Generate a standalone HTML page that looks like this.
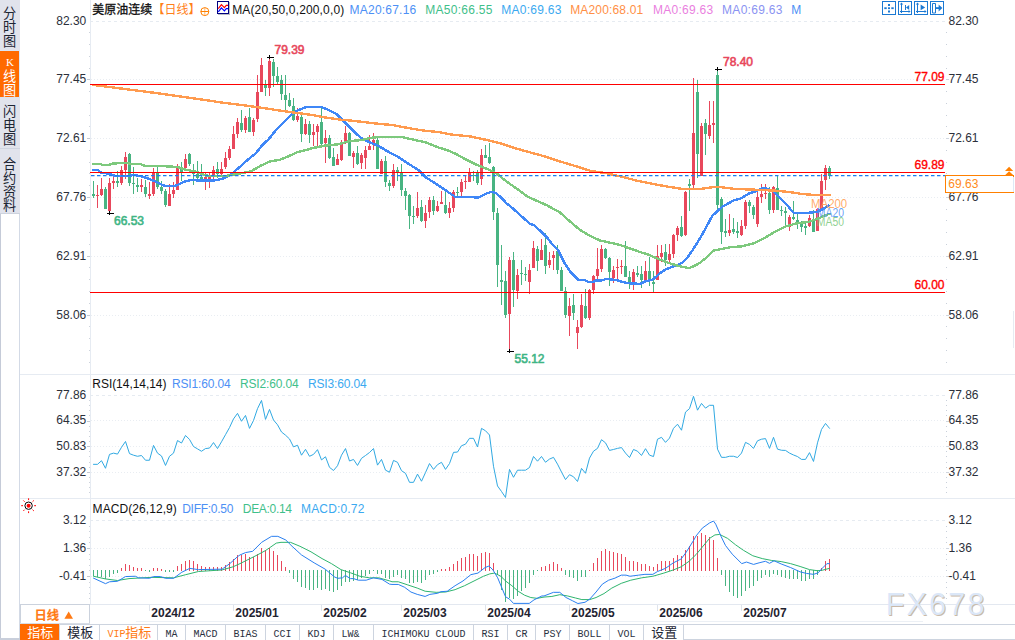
<!DOCTYPE html><html><head><meta charset="utf-8"><title>chart</title>
<style>html,body{margin:0;padding:0;background:#fff;}body{width:1015px;height:640px;overflow:hidden;font-family:"Liberation Sans",sans-serif;}svg{display:block}text{font-family:"Liberation Sans",sans-serif;font-size:12px}.mono{font-family:"Liberation Mono",monospace;font-size:10.8px}.b{font-weight:bold}.sb{stroke-width:0.35px;paint-order:stroke}.sb2{stroke-width:0.6px;paint-order:stroke}.cjk{font-family:"Liberation Sans","Noto Sans CJK SC",sans-serif}</style></head><body>
<svg width="1015" height="640" viewBox="0 0 1015 640">
<rect width="1015" height="640" fill="#fff"/>
<g shape-rendering="crispEdges">
<rect x="0" y="0" width="20" height="214" fill="#e1e3ec"/>
<rect x="0" y="50" width="20" height="1" fill="#dbe6f5"/>
<rect x="0" y="51" width="19" height="46" fill="#ff6a00"/>
<rect x="19" y="51" width="1" height="46" fill="#dce8f8"/>
<rect x="0" y="97" width="20" height="1" fill="#dbe3f0"/>
<rect x="0" y="148" width="20" height="1" fill="#cfd4e0"/>
<rect x="0" y="214" width="20" height="426" fill="#fff"/>
<rect x="0" y="213" width="20" height="1" fill="#cdd3de"/>
<rect x="0" y="214" width="1" height="426" fill="#c5cbd8"/>
<rect x="19" y="214" width="1" height="426" fill="#d3dae6"/>
<rect x="0" y="638" width="20" height="2" fill="#c9cfdb"/>
<rect x="90" y="0" width="1" height="604" fill="#e6ebf2"/>
<rect x="20" y="374" width="995" height="1" fill="#e6ebf2"/>
<rect x="20" y="498" width="995" height="1" fill="#e6ebf2"/>
<rect x="20" y="604" width="995" height="1" fill="#e3e8f0"/>
<rect x="136" y="621" width="787" height="1" fill="#ecf0f5"/>
<rect x="1013" y="311" width="1" height="37" fill="#e6ebf2"/>
<line x1="90" y1="21.5" x2="945" y2="21.5" stroke="#e6ebf1" stroke-width="1" stroke-dasharray="3 3"/>
<line x1="90" y1="395.5" x2="945" y2="395.5" stroke="#e6ebf1" stroke-width="1" stroke-dasharray="3 3"/>
<line x1="90" y1="520.5" x2="945" y2="520.5" stroke="#e6ebf1" stroke-width="1" stroke-dasharray="3 3"/>
<line x1="91" y1="79.5" x2="945" y2="79.5" stroke="#e9edf2" stroke-width="1" stroke-dasharray="1 2"/>
<line x1="91" y1="138.5" x2="945" y2="138.5" stroke="#e9edf2" stroke-width="1" stroke-dasharray="1 2"/>
<line x1="91" y1="197.5" x2="945" y2="197.5" stroke="#e9edf2" stroke-width="1" stroke-dasharray="1 2"/>
<line x1="91" y1="256.5" x2="945" y2="256.5" stroke="#e9edf2" stroke-width="1" stroke-dasharray="1 2"/>
<line x1="91" y1="315.5" x2="945" y2="315.5" stroke="#e9edf2" stroke-width="1" stroke-dasharray="1 2"/>
<line x1="91" y1="420.5" x2="945" y2="420.5" stroke="#e9edf2" stroke-width="1" stroke-dasharray="1 2"/>
<line x1="91" y1="446.5" x2="945" y2="446.5" stroke="#e9edf2" stroke-width="1" stroke-dasharray="1 2"/>
<line x1="91" y1="472.5" x2="945" y2="472.5" stroke="#e9edf2" stroke-width="1" stroke-dasharray="1 2"/>
<line x1="91" y1="548.5" x2="945" y2="548.5" stroke="#e9edf2" stroke-width="1" stroke-dasharray="1 2"/>
<line x1="91" y1="576.5" x2="945" y2="576.5" stroke="#e9edf2" stroke-width="1" stroke-dasharray="1 2"/>
<rect x="89" y="32" width="1" height="1" fill="#cdd3dc"/><rect x="946" y="32" width="1" height="1" fill="#c9d0da"/><rect x="89" y="44" width="1" height="1" fill="#cdd3dc"/><rect x="946" y="44" width="1" height="1" fill="#c9d0da"/><rect x="89" y="56" width="1" height="1" fill="#cdd3dc"/><rect x="946" y="56" width="1" height="1" fill="#c9d0da"/><rect x="89" y="68" width="1" height="1" fill="#cdd3dc"/><rect x="946" y="68" width="1" height="1" fill="#c9d0da"/><rect x="87" y="79" width="3" height="1" fill="#c4c9d2"/><rect x="946" y="79" width="3" height="1" fill="#cfd5de"/><rect x="89" y="91" width="1" height="1" fill="#cdd3dc"/><rect x="946" y="91" width="1" height="1" fill="#c9d0da"/><rect x="89" y="103" width="1" height="1" fill="#cdd3dc"/><rect x="946" y="103" width="1" height="1" fill="#c9d0da"/><rect x="89" y="115" width="1" height="1" fill="#cdd3dc"/><rect x="946" y="115" width="1" height="1" fill="#c9d0da"/><rect x="89" y="126" width="1" height="1" fill="#cdd3dc"/><rect x="946" y="126" width="1" height="1" fill="#c9d0da"/><rect x="87" y="138" width="3" height="1" fill="#c4c9d2"/><rect x="946" y="138" width="3" height="1" fill="#cfd5de"/><rect x="89" y="150" width="1" height="1" fill="#cdd3dc"/><rect x="946" y="150" width="1" height="1" fill="#c9d0da"/><rect x="89" y="162" width="1" height="1" fill="#cdd3dc"/><rect x="946" y="162" width="1" height="1" fill="#c9d0da"/><rect x="89" y="173" width="1" height="1" fill="#cdd3dc"/><rect x="946" y="173" width="1" height="1" fill="#c9d0da"/><rect x="89" y="185" width="1" height="1" fill="#cdd3dc"/><rect x="946" y="185" width="1" height="1" fill="#c9d0da"/><rect x="87" y="197" width="3" height="1" fill="#c4c9d2"/><rect x="946" y="197" width="3" height="1" fill="#cfd5de"/><rect x="89" y="209" width="1" height="1" fill="#cdd3dc"/><rect x="946" y="209" width="1" height="1" fill="#c9d0da"/><rect x="89" y="220" width="1" height="1" fill="#cdd3dc"/><rect x="946" y="220" width="1" height="1" fill="#c9d0da"/><rect x="89" y="232" width="1" height="1" fill="#cdd3dc"/><rect x="946" y="232" width="1" height="1" fill="#c9d0da"/><rect x="89" y="244" width="1" height="1" fill="#cdd3dc"/><rect x="946" y="244" width="1" height="1" fill="#c9d0da"/><rect x="87" y="256" width="3" height="1" fill="#c4c9d2"/><rect x="946" y="256" width="3" height="1" fill="#cfd5de"/><rect x="89" y="267" width="1" height="1" fill="#cdd3dc"/><rect x="946" y="267" width="1" height="1" fill="#c9d0da"/><rect x="89" y="279" width="1" height="1" fill="#cdd3dc"/><rect x="946" y="279" width="1" height="1" fill="#c9d0da"/><rect x="89" y="291" width="1" height="1" fill="#cdd3dc"/><rect x="946" y="291" width="1" height="1" fill="#c9d0da"/><rect x="89" y="303" width="1" height="1" fill="#cdd3dc"/><rect x="946" y="303" width="1" height="1" fill="#c9d0da"/><rect x="87" y="315" width="3" height="1" fill="#c4c9d2"/><rect x="946" y="315" width="3" height="1" fill="#cfd5de"/><rect x="89" y="326" width="1" height="1" fill="#cdd3dc"/><rect x="946" y="326" width="1" height="1" fill="#c9d0da"/><rect x="89" y="338" width="1" height="1" fill="#cdd3dc"/><rect x="946" y="338" width="1" height="1" fill="#c9d0da"/><rect x="89" y="350" width="1" height="1" fill="#cdd3dc"/><rect x="946" y="350" width="1" height="1" fill="#c9d0da"/><rect x="89" y="362" width="1" height="1" fill="#cdd3dc"/><rect x="946" y="362" width="1" height="1" fill="#c9d0da"/>
<rect x="89" y="400" width="1" height="1" fill="#cdd3dc"/><rect x="946" y="400" width="1" height="1" fill="#c9d0da"/><rect x="89" y="405" width="1" height="1" fill="#cdd3dc"/><rect x="946" y="405" width="1" height="1" fill="#c9d0da"/><rect x="89" y="410" width="1" height="1" fill="#cdd3dc"/><rect x="946" y="410" width="1" height="1" fill="#c9d0da"/><rect x="89" y="415" width="1" height="1" fill="#cdd3dc"/><rect x="946" y="415" width="1" height="1" fill="#c9d0da"/><rect x="87" y="421" width="3" height="1" fill="#c4c9d2"/><rect x="946" y="421" width="3" height="1" fill="#cfd5de"/><rect x="89" y="426" width="1" height="1" fill="#cdd3dc"/><rect x="946" y="426" width="1" height="1" fill="#c9d0da"/><rect x="89" y="431" width="1" height="1" fill="#cdd3dc"/><rect x="946" y="431" width="1" height="1" fill="#c9d0da"/><rect x="89" y="436" width="1" height="1" fill="#cdd3dc"/><rect x="946" y="436" width="1" height="1" fill="#c9d0da"/><rect x="89" y="441" width="1" height="1" fill="#cdd3dc"/><rect x="946" y="441" width="1" height="1" fill="#c9d0da"/><rect x="87" y="446" width="3" height="1" fill="#c4c9d2"/><rect x="946" y="446" width="3" height="1" fill="#cfd5de"/><rect x="89" y="451" width="1" height="1" fill="#cdd3dc"/><rect x="946" y="451" width="1" height="1" fill="#c9d0da"/><rect x="89" y="456" width="1" height="1" fill="#cdd3dc"/><rect x="946" y="456" width="1" height="1" fill="#c9d0da"/><rect x="89" y="462" width="1" height="1" fill="#cdd3dc"/><rect x="946" y="462" width="1" height="1" fill="#c9d0da"/><rect x="89" y="467" width="1" height="1" fill="#cdd3dc"/><rect x="946" y="467" width="1" height="1" fill="#c9d0da"/><rect x="87" y="472" width="3" height="1" fill="#c4c9d2"/><rect x="946" y="472" width="3" height="1" fill="#cfd5de"/><rect x="89" y="477" width="1" height="1" fill="#cdd3dc"/><rect x="946" y="477" width="1" height="1" fill="#c9d0da"/><rect x="89" y="482" width="1" height="1" fill="#cdd3dc"/><rect x="946" y="482" width="1" height="1" fill="#c9d0da"/><rect x="89" y="487" width="1" height="1" fill="#cdd3dc"/><rect x="946" y="487" width="1" height="1" fill="#c9d0da"/><rect x="89" y="492" width="1" height="1" fill="#cdd3dc"/><rect x="946" y="492" width="1" height="1" fill="#c9d0da"/>
<rect x="89" y="526" width="1" height="1" fill="#cdd3dc"/><rect x="946" y="526" width="1" height="1" fill="#c9d0da"/><rect x="89" y="531" width="1" height="1" fill="#cdd3dc"/><rect x="946" y="531" width="1" height="1" fill="#c9d0da"/><rect x="89" y="537" width="1" height="1" fill="#cdd3dc"/><rect x="946" y="537" width="1" height="1" fill="#c9d0da"/><rect x="89" y="542" width="1" height="1" fill="#cdd3dc"/><rect x="946" y="542" width="1" height="1" fill="#c9d0da"/><rect x="87" y="548" width="3" height="1" fill="#c4c9d2"/><rect x="946" y="548" width="3" height="1" fill="#cfd5de"/><rect x="89" y="554" width="1" height="1" fill="#cdd3dc"/><rect x="946" y="554" width="1" height="1" fill="#c9d0da"/><rect x="89" y="559" width="1" height="1" fill="#cdd3dc"/><rect x="946" y="559" width="1" height="1" fill="#c9d0da"/><rect x="89" y="565" width="1" height="1" fill="#cdd3dc"/><rect x="946" y="565" width="1" height="1" fill="#c9d0da"/><rect x="89" y="570" width="1" height="1" fill="#cdd3dc"/><rect x="946" y="570" width="1" height="1" fill="#c9d0da"/><rect x="87" y="576" width="3" height="1" fill="#c4c9d2"/><rect x="946" y="576" width="3" height="1" fill="#cfd5de"/><rect x="89" y="582" width="1" height="1" fill="#cdd3dc"/><rect x="946" y="582" width="1" height="1" fill="#c9d0da"/><rect x="89" y="587" width="1" height="1" fill="#cdd3dc"/><rect x="946" y="587" width="1" height="1" fill="#c9d0da"/><rect x="89" y="593" width="1" height="1" fill="#cdd3dc"/><rect x="946" y="593" width="1" height="1" fill="#c9d0da"/><rect x="89" y="598" width="1" height="1" fill="#cdd3dc"/><rect x="946" y="598" width="1" height="1" fill="#c9d0da"/>
</g>
<g shape-rendering="crispEdges">
<g fill="#e8485c"><rect x="97" y="185" width="1" height="23"/><rect x="96" y="195" width="3" height="1"/><rect x="101" y="178" width="1" height="18"/><rect x="100" y="189" width="3" height="6"/><rect x="109" y="178" width="1" height="35"/><rect x="108" y="183" width="3" height="28"/><rect x="113" y="177" width="1" height="12"/><rect x="112" y="181" width="3" height="2"/><rect x="121" y="166" width="1" height="19"/><rect x="120" y="170" width="3" height="13"/><rect x="125" y="152" width="1" height="27"/><rect x="124" y="157" width="3" height="13"/><rect x="141" y="179" width="1" height="13"/><rect x="140" y="185" width="3" height="2"/><rect x="149" y="182" width="1" height="17"/><rect x="148" y="194" width="3" height="2"/><rect x="153" y="168" width="1" height="28"/><rect x="152" y="172" width="3" height="22"/><rect x="169" y="184" width="1" height="22"/><rect x="168" y="194" width="3" height="12"/><rect x="173" y="182" width="1" height="16"/><rect x="172" y="190" width="3" height="4"/><rect x="177" y="164" width="1" height="26"/><rect x="176" y="168" width="3" height="22"/><rect x="185" y="154" width="1" height="15"/><rect x="184" y="159" width="3" height="9"/><rect x="205" y="173" width="1" height="17"/><rect x="204" y="177" width="3" height="3"/><rect x="209" y="173" width="1" height="15"/><rect x="208" y="176" width="3" height="3"/><rect x="213" y="166" width="1" height="13"/><rect x="212" y="170" width="3" height="5"/><rect x="221" y="162" width="1" height="15"/><rect x="220" y="169" width="3" height="5"/><rect x="225" y="152" width="1" height="17"/><rect x="224" y="158" width="3" height="9"/><rect x="229" y="146" width="1" height="14"/><rect x="228" y="149" width="3" height="9"/><rect x="233" y="126" width="1" height="23"/><rect x="232" y="134" width="3" height="15"/><rect x="237" y="118" width="1" height="20"/><rect x="236" y="122" width="3" height="12"/><rect x="245" y="116" width="1" height="17"/><rect x="244" y="118" width="3" height="12"/><rect x="253" y="118" width="1" height="18"/><rect x="252" y="120" width="3" height="12"/><rect x="257" y="75" width="1" height="47"/><rect x="256" y="92" width="3" height="27"/><rect x="261" y="58" width="1" height="34"/><rect x="260" y="65" width="3" height="27"/><rect x="269" y="57" width="1" height="39"/><rect x="268" y="61" width="3" height="27"/><rect x="297" y="108" width="1" height="14"/><rect x="296" y="116" width="3" height="4"/><rect x="305" y="119" width="1" height="16"/><rect x="304" y="124" width="3" height="10"/><rect x="313" y="124" width="1" height="22"/><rect x="312" y="132" width="3" height="3"/><rect x="317" y="124" width="1" height="22"/><rect x="316" y="126" width="3" height="6"/><rect x="325" y="130" width="1" height="33"/><rect x="324" y="138" width="3" height="5"/><rect x="337" y="154" width="1" height="11"/><rect x="336" y="159" width="3" height="6"/><rect x="341" y="140" width="1" height="21"/><rect x="340" y="144" width="3" height="16"/><rect x="345" y="126" width="1" height="18"/><rect x="344" y="133" width="3" height="9"/><rect x="353" y="151" width="1" height="17"/><rect x="352" y="153" width="3" height="4"/><rect x="361" y="153" width="1" height="16"/><rect x="360" y="155" width="3" height="8"/><rect x="365" y="146" width="1" height="23"/><rect x="364" y="150" width="3" height="8"/><rect x="369" y="135" width="1" height="15"/><rect x="368" y="146" width="3" height="4"/><rect x="373" y="133" width="1" height="17"/><rect x="372" y="140" width="3" height="5"/><rect x="381" y="159" width="1" height="15"/><rect x="380" y="161" width="3" height="13"/><rect x="393" y="164" width="1" height="24"/><rect x="392" y="170" width="3" height="16"/><rect x="417" y="192" width="1" height="26"/><rect x="416" y="208" width="3" height="8"/><rect x="425" y="205" width="1" height="23"/><rect x="424" y="213" width="3" height="8"/><rect x="429" y="197" width="1" height="21"/><rect x="428" y="200" width="3" height="12"/><rect x="437" y="201" width="1" height="11"/><rect x="436" y="206" width="3" height="5"/><rect x="441" y="191" width="1" height="13"/><rect x="440" y="202" width="3" height="2"/><rect x="449" y="202" width="1" height="16"/><rect x="448" y="208" width="3" height="5"/><rect x="453" y="190" width="1" height="22"/><rect x="452" y="192" width="3" height="16"/><rect x="461" y="179" width="1" height="17"/><rect x="460" y="182" width="3" height="10"/><rect x="465" y="176" width="1" height="13"/><rect x="464" y="181" width="3" height="1"/><rect x="469" y="168" width="1" height="14"/><rect x="468" y="173" width="3" height="9"/><rect x="481" y="149" width="1" height="36"/><rect x="480" y="155" width="3" height="24"/><rect x="509" y="257" width="1" height="94"/><rect x="508" y="260" width="3" height="54"/><rect x="517" y="269" width="1" height="30"/><rect x="516" y="275" width="3" height="16"/><rect x="529" y="264" width="1" height="30"/><rect x="528" y="270" width="3" height="12"/><rect x="533" y="241" width="1" height="27"/><rect x="532" y="248" width="3" height="20"/><rect x="541" y="239" width="1" height="21"/><rect x="540" y="250" width="3" height="10"/><rect x="549" y="252" width="1" height="16"/><rect x="548" y="260" width="3" height="5"/><rect x="553" y="251" width="1" height="19"/><rect x="552" y="255" width="3" height="3"/><rect x="569" y="298" width="1" height="38"/><rect x="568" y="306" width="3" height="10"/><rect x="577" y="320" width="1" height="29"/><rect x="576" y="327" width="3" height="6"/><rect x="581" y="294" width="1" height="34"/><rect x="580" y="305" width="3" height="22"/><rect x="589" y="289" width="1" height="31"/><rect x="588" y="290" width="3" height="28"/><rect x="593" y="275" width="1" height="19"/><rect x="592" y="276" width="3" height="14"/><rect x="597" y="248" width="1" height="32"/><rect x="596" y="269" width="3" height="7"/><rect x="601" y="245" width="1" height="27"/><rect x="600" y="249" width="3" height="20"/><rect x="613" y="266" width="1" height="17"/><rect x="612" y="270" width="3" height="8"/><rect x="617" y="259" width="1" height="20"/><rect x="616" y="267" width="3" height="1"/><rect x="621" y="260" width="1" height="14"/><rect x="620" y="266" width="3" height="1"/><rect x="633" y="269" width="1" height="21"/><rect x="632" y="272" width="3" height="13"/><rect x="645" y="261" width="1" height="20"/><rect x="644" y="271" width="3" height="10"/><rect x="657" y="245" width="1" height="35"/><rect x="656" y="256" width="3" height="24"/><rect x="661" y="245" width="1" height="17"/><rect x="660" y="253" width="3" height="4"/><rect x="669" y="244" width="1" height="18"/><rect x="668" y="254" width="3" height="6"/><rect x="673" y="234" width="1" height="24"/><rect x="672" y="235" width="3" height="19"/><rect x="677" y="226" width="1" height="15"/><rect x="676" y="228" width="3" height="7"/><rect x="685" y="191" width="1" height="45"/><rect x="684" y="192" width="3" height="43"/><rect x="693" y="78" width="1" height="110"/><rect x="692" y="133" width="3" height="52"/><rect x="701" y="123" width="1" height="53"/><rect x="700" y="126" width="3" height="50"/><rect x="709" y="101" width="1" height="38"/><rect x="708" y="125" width="3" height="11"/><rect x="713" y="101" width="1" height="42"/><rect x="712" y="123" width="3" height="2"/><rect x="729" y="214" width="1" height="22"/><rect x="728" y="230" width="3" height="3"/><rect x="741" y="220" width="1" height="16"/><rect x="740" y="226" width="3" height="9"/><rect x="745" y="200" width="1" height="29"/><rect x="744" y="202" width="3" height="24"/><rect x="757" y="192" width="1" height="35"/><rect x="756" y="197" width="3" height="27"/><rect x="761" y="184" width="1" height="19"/><rect x="760" y="194" width="3" height="3"/><rect x="765" y="184" width="1" height="15"/><rect x="764" y="193" width="3" height="1"/><rect x="773" y="186" width="1" height="27"/><rect x="772" y="187" width="3" height="23"/><rect x="789" y="215" width="1" height="16"/><rect x="788" y="217" width="3" height="10"/><rect x="809" y="215" width="1" height="12"/><rect x="808" y="218" width="3" height="8"/><rect x="817" y="208" width="1" height="23"/><rect x="816" y="209" width="3" height="22"/><rect x="821" y="174" width="1" height="36"/><rect x="820" y="181" width="3" height="28"/><rect x="825" y="165" width="1" height="25"/><rect x="824" y="168" width="3" height="12"/></g>
<g fill="#48b482"><rect x="93" y="181" width="1" height="17"/><rect x="92" y="194" width="3" height="2"/><rect x="105" y="187" width="1" height="22"/><rect x="104" y="189" width="3" height="20"/><rect x="117" y="171" width="1" height="16"/><rect x="116" y="181" width="3" height="2"/><rect x="129" y="153" width="1" height="33"/><rect x="128" y="154" width="3" height="29"/><rect x="133" y="167" width="1" height="27"/><rect x="132" y="183" width="3" height="1"/><rect x="137" y="178" width="1" height="14"/><rect x="136" y="185" width="3" height="2"/><rect x="145" y="180" width="1" height="17"/><rect x="144" y="187" width="3" height="7"/><rect x="157" y="167" width="1" height="22"/><rect x="156" y="172" width="3" height="15"/><rect x="161" y="181" width="1" height="13"/><rect x="160" y="187" width="3" height="4"/><rect x="165" y="189" width="1" height="18"/><rect x="164" y="191" width="3" height="14"/><rect x="181" y="162" width="1" height="19"/><rect x="180" y="168" width="3" height="4"/><rect x="189" y="153" width="1" height="13"/><rect x="188" y="154" width="3" height="10"/><rect x="193" y="164" width="1" height="21"/><rect x="192" y="170" width="3" height="4"/><rect x="197" y="161" width="1" height="18"/><rect x="196" y="174" width="3" height="4"/><rect x="201" y="164" width="1" height="16"/><rect x="200" y="177" width="3" height="2"/><rect x="217" y="162" width="1" height="16"/><rect x="216" y="169" width="3" height="5"/><rect x="241" y="110" width="1" height="22"/><rect x="240" y="123" width="3" height="7"/><rect x="249" y="108" width="1" height="24"/><rect x="248" y="117" width="3" height="15"/><rect x="265" y="80" width="1" height="16"/><rect x="264" y="85" width="3" height="3"/><rect x="273" y="59" width="1" height="28"/><rect x="272" y="62" width="3" height="14"/><rect x="277" y="67" width="1" height="17"/><rect x="276" y="76" width="3" height="6"/><rect x="281" y="75" width="1" height="25"/><rect x="280" y="80" width="3" height="14"/><rect x="285" y="75" width="1" height="35"/><rect x="284" y="95" width="3" height="5"/><rect x="289" y="93" width="1" height="14"/><rect x="288" y="100" width="3" height="6"/><rect x="293" y="98" width="1" height="23"/><rect x="292" y="106" width="3" height="14"/><rect x="301" y="115" width="1" height="27"/><rect x="300" y="117" width="3" height="17"/><rect x="309" y="121" width="1" height="22"/><rect x="308" y="124" width="3" height="11"/><rect x="321" y="108" width="1" height="38"/><rect x="320" y="122" width="3" height="22"/><rect x="329" y="135" width="1" height="24"/><rect x="328" y="138" width="3" height="20"/><rect x="333" y="148" width="1" height="18"/><rect x="332" y="157" width="3" height="9"/><rect x="349" y="132" width="1" height="24"/><rect x="348" y="133" width="3" height="23"/><rect x="357" y="146" width="1" height="19"/><rect x="356" y="153" width="3" height="11"/><rect x="377" y="138" width="1" height="31"/><rect x="376" y="140" width="3" height="29"/><rect x="385" y="156" width="1" height="31"/><rect x="384" y="161" width="3" height="21"/><rect x="389" y="180" width="1" height="11"/><rect x="388" y="183" width="3" height="3"/><rect x="397" y="167" width="1" height="14"/><rect x="396" y="170" width="3" height="2"/><rect x="401" y="164" width="1" height="32"/><rect x="400" y="173" width="3" height="17"/><rect x="405" y="188" width="1" height="22"/><rect x="404" y="191" width="3" height="5"/><rect x="409" y="194" width="1" height="35"/><rect x="408" y="195" width="3" height="21"/><rect x="413" y="206" width="1" height="18"/><rect x="412" y="216" width="3" height="1"/><rect x="421" y="200" width="1" height="22"/><rect x="420" y="207" width="3" height="14"/><rect x="433" y="196" width="1" height="19"/><rect x="432" y="200" width="3" height="11"/><rect x="445" y="192" width="1" height="22"/><rect x="444" y="205" width="3" height="8"/><rect x="457" y="187" width="1" height="9"/><rect x="456" y="192" width="3" height="1"/><rect x="473" y="171" width="1" height="10"/><rect x="472" y="175" width="3" height="1"/><rect x="477" y="170" width="1" height="15"/><rect x="476" y="173" width="3" height="10"/><rect x="485" y="145" width="1" height="13"/><rect x="484" y="155" width="3" height="3"/><rect x="489" y="143" width="1" height="21"/><rect x="488" y="157" width="3" height="6"/><rect x="493" y="166" width="1" height="54"/><rect x="492" y="167" width="3" height="45"/><rect x="497" y="208" width="1" height="79"/><rect x="496" y="213" width="3" height="52"/><rect x="501" y="245" width="1" height="60"/><rect x="500" y="280" width="3" height="2"/><rect x="505" y="271" width="1" height="47"/><rect x="504" y="281" width="3" height="34"/><rect x="513" y="252" width="1" height="55"/><rect x="512" y="260" width="3" height="30"/><rect x="521" y="260" width="1" height="25"/><rect x="520" y="273" width="3" height="1"/><rect x="525" y="267" width="1" height="14"/><rect x="524" y="274" width="3" height="1"/><rect x="537" y="246" width="1" height="25"/><rect x="536" y="249" width="3" height="12"/><rect x="545" y="233" width="1" height="41"/><rect x="544" y="245" width="3" height="21"/><rect x="557" y="245" width="1" height="29"/><rect x="556" y="251" width="3" height="19"/><rect x="561" y="267" width="1" height="24"/><rect x="560" y="270" width="3" height="21"/><rect x="565" y="287" width="1" height="31"/><rect x="564" y="291" width="3" height="24"/><rect x="573" y="294" width="1" height="26"/><rect x="572" y="305" width="3" height="8"/><rect x="585" y="289" width="1" height="30"/><rect x="584" y="306" width="3" height="12"/><rect x="605" y="248" width="1" height="11"/><rect x="604" y="249" width="3" height="9"/><rect x="609" y="257" width="1" height="29"/><rect x="608" y="258" width="3" height="14"/><rect x="625" y="241" width="1" height="36"/><rect x="624" y="266" width="3" height="11"/><rect x="629" y="271" width="1" height="18"/><rect x="628" y="277" width="3" height="5"/><rect x="637" y="266" width="1" height="11"/><rect x="636" y="273" width="3" height="2"/><rect x="641" y="266" width="1" height="22"/><rect x="640" y="274" width="3" height="6"/><rect x="649" y="257" width="1" height="29"/><rect x="648" y="271" width="3" height="8"/><rect x="653" y="271" width="1" height="21"/><rect x="652" y="282" width="3" height="2"/><rect x="665" y="244" width="1" height="22"/><rect x="664" y="252" width="3" height="8"/><rect x="681" y="216" width="1" height="21"/><rect x="680" y="227" width="3" height="9"/><rect x="689" y="179" width="1" height="32"/><rect x="688" y="184" width="3" height="2"/><rect x="697" y="80" width="1" height="98"/><rect x="696" y="92" width="3" height="62"/><rect x="705" y="119" width="1" height="36"/><rect x="704" y="123" width="3" height="11"/><rect x="717" y="70" width="1" height="139"/><rect x="716" y="75" width="3" height="130"/><rect x="721" y="197" width="1" height="47"/><rect x="720" y="199" width="3" height="33"/><rect x="725" y="219" width="1" height="18"/><rect x="724" y="231" width="3" height="2"/><rect x="733" y="218" width="1" height="16"/><rect x="732" y="229" width="3" height="3"/><rect x="737" y="222" width="1" height="16"/><rect x="736" y="231" width="3" height="2"/><rect x="749" y="200" width="1" height="13"/><rect x="748" y="202" width="3" height="4"/><rect x="753" y="205" width="1" height="14"/><rect x="752" y="207" width="3" height="8"/><rect x="769" y="187" width="1" height="27"/><rect x="768" y="193" width="3" height="17"/><rect x="777" y="176" width="1" height="34"/><rect x="776" y="188" width="3" height="22"/><rect x="781" y="206" width="1" height="10"/><rect x="780" y="210" width="3" height="1"/><rect x="785" y="207" width="1" height="18"/><rect x="784" y="211" width="3" height="2"/><rect x="793" y="201" width="1" height="19"/><rect x="792" y="217" width="3" height="2"/><rect x="797" y="213" width="1" height="16"/><rect x="796" y="220" width="3" height="2"/><rect x="801" y="221" width="1" height="11"/><rect x="800" y="223" width="3" height="4"/><rect x="805" y="223" width="1" height="12"/><rect x="804" y="226" width="3" height="2"/><rect x="813" y="210" width="1" height="22"/><rect x="812" y="221" width="3" height="11"/><rect x="829" y="166" width="1" height="13"/><rect x="828" y="168" width="3" height="8"/></g>
</g>
<polyline fill="none" stroke="#3f87f7" stroke-width="2.4" stroke-linejoin="round" stroke-linecap="round" shape-rendering="crispEdges" points="93,169.8 97.5,170 101.3,172.8 110,173.8 115,176 127.5,176.3 133.8,175 140,176 146.3,177.9 155,181.3 163.8,185.6 170,186.1 176,185.6 184.8,181.5 191,180 201,180.6 213.5,180.6 222.3,178.8 231,174.4 238.5,168.1 246,161.3 256,153.1 262.3,145 268.5,139.4 276,130 283.5,122.5 291,115 297.3,110.6 306.3,107.1 321.3,107.1 327.5,109.4 336.3,113.8 342.5,120 350,127.5 356.3,134 362.5,138.8 370,142.5 378,145.6 388.5,151.9 397.3,156.3 407.3,163.1 418.5,170 426,177.5 436,183.8 446,190.6 455.8,197.3 469.5,197.1 478.3,197.5 484.5,194.4 490.8,191.9 495.8,192.8 502,198.5 507,203.8 512.5,208.1 520,215 530,223.8 533.8,225 540,230.6 547.5,238.1 552,244 558.3,250.6 564.5,263.1 570.8,272.5 578.3,280 584.5,280 588.3,281.9 593.3,281.9 595.8,280.6 602,280.3 607,278.8 617,280.3 624.5,282.5 632,283.6 640.5,283.8 645.5,281.3 653,279.4 659.3,273.8 665.5,269.4 675.5,265.6 681.8,263.1 688,256.9 694.3,247.5 700.5,237.5 706,227.5 712.2,216 722,206.9 734.5,200 740.8,198.5 748.3,193.8 755.8,191.3 762,188.1 765.8,188.1 773.3,191.3 779.5,197.5 787,205 793.5,212.8 808.5,212.8 817.3,211.9 823.5,208.8 828.5,205.6"/>
<polyline fill="none" stroke="#7dc97d" stroke-width="2.4" stroke-linejoin="round" stroke-linecap="round" shape-rendering="crispEdges" points="93,164 101,164 102.5,165 108.8,165 111.3,163.8 118.8,163.1 127.5,163.1 131.3,164 140,164 145,166 166,166.3 177.3,167 184.8,169.4 197.3,171.9 206,175.6 218.5,176.2 228.5,175.6 238.5,173.8 251,171.3 261,165.6 269.8,161.5 279.8,159.8 288.5,156.3 297.3,152.2 306,150 312.5,148.1 325,145.6 337.5,144.4 350,141 362.5,140 370,137.9 380,136.9 401,136.9 413.5,139.6 426,142.5 438.5,147.5 448.5,150.6 456,154 464.5,158.8 477,165 489.5,170 497,173.8 507,181.9 517,188.8 527,196.3 535,200 547.5,205.6 560,212.5 570,221.5 580,230 589.5,235.6 599.5,240.3 612,243.1 622,245.6 630,248.5 638,251.3 649.3,255 659.3,259.4 669.3,263.1 680.5,266.5 689.3,268.1 695.5,265.3 700,262.8 706.7,257.4 713.6,250.5 721.5,249 731.4,247 741.2,246.5 753,243.6 764.9,237.7 776.7,230.8 786,226.3 796,223.5 808.5,221.9 817.3,218.8 826,215 829.5,213.8"/>
<polyline fill="none" stroke="#ff9b4f" stroke-width="2.4" stroke-linejoin="round" stroke-linecap="round" shape-rendering="crispEdges" points="93,84.9 159,93.4 226,103.1 246,105.6 266,108.4 286,111.5 300,113.3 312.5,115 325,117.5 340,119.6 355,121 367.5,122.5 380,124 392.3,125 408.5,128.1 423.5,130.6 438.5,132.1 452,134.6 470.8,136.5 489.5,140.6 502,143.8 514.5,148.1 528,151.8 543.8,156.1 559.5,161.3 575.3,166 591,171 606.9,173.3 622.6,177 638.4,181 654.2,184.2 670,187 681.3,188.8 701.3,188.8 713.8,187 720.8,187.1 733.3,188.8 749.5,189.5 762,190 774.5,190.6 788,191.9 801,193.8 813.5,195 829.5,195"/>
<g shape-rendering="crispEdges">
<rect x="90" y="84" width="855" height="1" fill="#ff0000"/>
<rect x="90" y="172" width="855" height="1" fill="#ff0000"/>
<rect x="90" y="292" width="855" height="1" fill="#ff0000"/>
</g>
<line x1="91" y1="175.5" x2="945" y2="175.5" stroke="#187bf2" stroke-width="1.25" stroke-dasharray="3.5 2.5"/>
<text x="811" y="207.6" fill="#ff9b4f" fill-opacity="0.85" textLength="36.2" lengthAdjust="spacingAndGlyphs" style="font-size:12px">MA200</text>
<text x="816.8" y="217.1" fill="#4d8ff5" fill-opacity="0.85" textLength="27.2" lengthAdjust="spacingAndGlyphs" style="font-size:12px">MA20</text>
<text x="816.8" y="225.5" fill="#7dc97d" fill-opacity="0.85" textLength="27.2" lengthAdjust="spacingAndGlyphs" style="font-size:12px">MA50</text>
<g shape-rendering="crispEdges" fill="#000"><rect x="267" y="57" width="7" height="1"/><rect x="269" y="55" width="1" height="4"/></g>
<g shape-rendering="crispEdges" fill="#000"><rect x="107" y="213" width="7" height="1"/><rect x="109" y="211" width="1" height="4"/></g>
<g shape-rendering="crispEdges" fill="#000"><rect x="715" y="69" width="7" height="1"/><rect x="717" y="67" width="1" height="4"/></g>
<g shape-rendering="crispEdges" fill="#000"><rect x="507" y="351" width="7" height="1"/><rect x="509" y="349" width="1" height="4"/></g>
<text class="sb2" x="274.5" y="54" fill="#e8485c" stroke="#e8485c">79.39</text>
<text class="sb2" x="723" y="66" fill="#e8485c" stroke="#e8485c">78.40</text>
<text class="sb2" x="114" y="225" fill="#3fb585" stroke="#3fb585">66.53</text>
<text class="sb2" x="514.5" y="362.5" fill="#3fb585" stroke="#3fb585">55.12</text>
<text class="sb" x="944.5" y="80.5" text-anchor="end" fill="#ff0000" stroke="#ff0000">77.09</text>
<text class="sb" x="944.5" y="168.5" text-anchor="end" fill="#ff0000" stroke="#ff0000">69.89</text>
<text class="sb" x="944.5" y="288.5" text-anchor="end" fill="#ff0000" stroke="#ff0000">60.00</text>
<text x="86.3" y="25.2" text-anchor="end" fill="#2b2f3a">82.30</text>
<text x="948.5" y="25.2" fill="#2b2f3a">82.30</text>
<text x="86.3" y="83.2" text-anchor="end" fill="#2b2f3a">77.45</text>
<text x="948.5" y="83.2" fill="#2b2f3a">77.45</text>
<text x="86.3" y="142.2" text-anchor="end" fill="#2b2f3a">72.61</text>
<text x="948.5" y="142.2" fill="#2b2f3a">72.61</text>
<text x="86.3" y="201.2" text-anchor="end" fill="#2b2f3a">67.76</text>
<text x="948.5" y="201.2" fill="#2b2f3a">67.76</text>
<text x="86.3" y="260.2" text-anchor="end" fill="#2b2f3a">62.91</text>
<text x="948.5" y="260.2" fill="#2b2f3a">62.91</text>
<text x="86.3" y="319.2" text-anchor="end" fill="#2b2f3a">58.06</text>
<text x="948.5" y="319.2" fill="#2b2f3a">58.06</text>
<text x="86.3" y="399.2" text-anchor="end" fill="#2b2f3a">77.86</text>
<text x="948.5" y="399.2" fill="#2b2f3a">77.86</text>
<text x="86.3" y="424.2" text-anchor="end" fill="#2b2f3a">64.35</text>
<text x="948.5" y="424.2" fill="#2b2f3a">64.35</text>
<text x="86.3" y="450.2" text-anchor="end" fill="#2b2f3a">50.83</text>
<text x="948.5" y="450.2" fill="#2b2f3a">50.83</text>
<text x="86.3" y="476.2" text-anchor="end" fill="#2b2f3a">37.32</text>
<text x="948.5" y="476.2" fill="#2b2f3a">37.32</text>
<text x="86.3" y="524.2" text-anchor="end" fill="#2b2f3a">3.12</text>
<text x="948.5" y="524.2" fill="#2b2f3a">3.12</text>
<text x="86.3" y="552.2" text-anchor="end" fill="#2b2f3a">1.36</text>
<text x="948.5" y="552.2" fill="#2b2f3a">1.36</text>
<text x="86.3" y="580.2" text-anchor="end" fill="#2b2f3a">-0.41</text>
<text x="948.5" y="580.2" fill="#2b2f3a">-0.41</text>
<g shape-rendering="crispEdges"><rect x="945" y="175" width="69" height="18" fill="#fff"/><rect x="945" y="175" width="69" height="1" fill="#ff8000"/><rect x="945" y="192" width="69" height="1" fill="#ff8000"/><rect x="945" y="175" width="1" height="18" fill="#ff8000"/><rect x="1013" y="177" width="1" height="15" fill="#dde9f6"/><rect x="1013" y="175" width="1" height="2" fill="#ff8000"/></g>
<text x="948.3" y="188" fill="#ff8a1a">69.63</text>
<path d="M1005 171 L1009.1 166.8 L1013.2 171 Z M1005 175.3 L1009.1 171.3 L1013.4 175.3 Z" fill="#ff8000"/>
<polyline fill="none" stroke="#30a9e2" stroke-width="1" stroke-linejoin="round" stroke-linecap="round" points="93.5,464.34 97.5,464.34 101.5,460.71 105.5,468.28 109.5,454.4 113.5,453.14 117.5,454.09 121.5,447.3 125.5,441.47 129.5,453.61 133.5,455.19 137.5,456.29 141.5,455.5 145.5,460.24 149.5,460.24 153.5,445.41 157.5,453.14 161.5,455.98 165.5,465.44 169.5,456.29 173.5,453.14 177.5,440.52 181.5,443.04 185.5,435.47 189.5,439.42 193.5,446.51 197.5,448.88 201.5,451.25 205.5,448.56 209.5,448.09 213.5,442.57 217.5,448.56 221.5,441.78 225.5,434.68 229.5,427.59 233.5,418.91 237.5,413.39 241.5,421.28 245.5,415.44 249.5,428.38 253.5,420.49 257.5,408.66 261.5,400.46 265.5,419.38 269.5,409.45 273.5,420.02 277.5,424.75 281.5,432 285.5,435.16 289.5,438.94 293.5,446.83 297.5,445.25 301.5,455.19 305.5,449.35 309.5,456.29 313.5,454.4 317.5,449.67 321.5,459.92 325.5,456.77 329.5,467.33 333.5,470.49 337.5,465.76 341.5,455.19 345.5,448.56 349.5,461.03 353.5,459.45 357.5,465.44 361.5,458.34 365.5,455.5 369.5,452.51 373.5,448.56 377.5,465.13 381.5,459.45 385.5,470.17 389.5,472.22 393.5,460.41 397.5,462.3 401.5,470.66 405.5,473.34 409.5,482.33 413.5,482.33 417.5,474.13 421.5,481.23 425.5,472.56 429.5,463.56 433.5,469.4 437.5,464.67 441.5,462.3 445.5,469.4 449.5,463.56 453.5,452.37 457.5,452.05 461.5,445.74 465.5,444.16 469.5,438.33 473.5,438.33 477.5,447 481.5,428.39 485.5,430.76 489.5,435.02 493.5,466.25 497.5,485.96 501.5,491.48 505.5,497.48 509.5,469.4 513.5,477.29 517.5,470.19 521.5,470.19 525.5,470.19 529.5,467.51 533.5,456.47 537.5,461.2 541.5,456.47 545.5,462.24 549.5,459.09 553.5,457.35 557.5,464.13 561.5,472.02 565.5,479.59 569.5,474.7 573.5,476.75 577.5,481.48 581.5,468.39 585.5,473.28 589.5,458.14 593.5,451.2 597.5,448.36 601.5,439.68 605.5,442.84 609.5,450.41 613.5,449.46 617.5,448.36 621.5,447.57 625.5,453.09 629.5,457.51 633.5,449.46 637.5,451.2 641.5,455.46 645.5,448.68 649.5,455.14 653.5,456.56 657.5,439.21 661.5,437.32 665.5,442.37 669.5,438.11 673.5,428.33 677.5,424.23 681.5,430.22 685.5,412.08 689.5,408.61 693.5,396.31 697.5,410.19 701.5,403.41 705.5,408.14 709.5,405.3 713.5,405.3 717.5,449.15 721.5,457.35 725.5,457.35 729.5,456.25 733.5,456.25 737.5,457.51 741.5,453.09 745.5,442.37 749.5,444.42 753.5,448.36 757.5,440.79 761.5,439.21 765.5,438.58 769.5,448.36 773.5,437.32 777.5,449.15 781.5,450.25 785.5,450.41 789.5,453.09 793.5,454.98 797.5,456.56 801.5,459.4 805.5,459.4 809.5,452.62 813.5,461.45 817.5,442.84 821.5,429.43 825.5,423.44 829.5,428.33"/>
<g shape-rendering="crispEdges">
<g fill="#e8485c"><rect x="121" y="568" width="1" height="3"/><rect x="125" y="564" width="1" height="7"/><rect x="129" y="565" width="1" height="6"/><rect x="133" y="567" width="1" height="4"/><rect x="137" y="568" width="1" height="3"/><rect x="141" y="568" width="1" height="3"/><rect x="153" y="568" width="1" height="3"/><rect x="157" y="568" width="1" height="3"/><rect x="161" y="569" width="1" height="2"/><rect x="177" y="566" width="1" height="5"/><rect x="181" y="564" width="1" height="7"/><rect x="185" y="561" width="1" height="10"/><rect x="189" y="560" width="1" height="11"/><rect x="193" y="561" width="1" height="10"/><rect x="197" y="564" width="1" height="7"/><rect x="201" y="566" width="1" height="5"/><rect x="205" y="567" width="1" height="4"/><rect x="209" y="567" width="1" height="4"/><rect x="213" y="567" width="1" height="4"/><rect x="217" y="567" width="1" height="4"/><rect x="221" y="567" width="1" height="4"/><rect x="225" y="565" width="1" height="6"/><rect x="229" y="562" width="1" height="9"/><rect x="233" y="559" width="1" height="12"/><rect x="237" y="555" width="1" height="16"/><rect x="241" y="555" width="1" height="16"/><rect x="245" y="554" width="1" height="17"/><rect x="249" y="557" width="1" height="14"/><rect x="253" y="557" width="1" height="14"/><rect x="257" y="554" width="1" height="17"/><rect x="261" y="548" width="1" height="23"/><rect x="265" y="550" width="1" height="21"/><rect x="269" y="548" width="1" height="23"/><rect x="273" y="551" width="1" height="20"/><rect x="277" y="555" width="1" height="16"/><rect x="281" y="561" width="1" height="10"/><rect x="285" y="567" width="1" height="4"/><rect x="441" y="569" width="1" height="2"/><rect x="445" y="569" width="1" height="2"/><rect x="449" y="567" width="1" height="4"/><rect x="453" y="564" width="1" height="7"/><rect x="457" y="561" width="1" height="10"/><rect x="461" y="558" width="1" height="13"/><rect x="465" y="557" width="1" height="14"/><rect x="469" y="554" width="1" height="17"/><rect x="473" y="554" width="1" height="17"/><rect x="477" y="556" width="1" height="15"/><rect x="481" y="553" width="1" height="18"/><rect x="485" y="552" width="1" height="19"/><rect x="489" y="553" width="1" height="18"/><rect x="493" y="563" width="1" height="8"/><rect x="541" y="567" width="1" height="4"/><rect x="545" y="566" width="1" height="5"/><rect x="549" y="564" width="1" height="7"/><rect x="553" y="562" width="1" height="9"/><rect x="557" y="564" width="1" height="7"/><rect x="561" y="568" width="1" height="3"/><rect x="589" y="570" width="1" height="1"/><rect x="593" y="563" width="1" height="8"/><rect x="597" y="558" width="1" height="13"/><rect x="601" y="551" width="1" height="20"/><rect x="605" y="549" width="1" height="22"/><rect x="609" y="551" width="1" height="20"/><rect x="613" y="552" width="1" height="19"/><rect x="617" y="553" width="1" height="18"/><rect x="621" y="554" width="1" height="17"/><rect x="625" y="557" width="1" height="14"/><rect x="629" y="561" width="1" height="10"/><rect x="633" y="561" width="1" height="10"/><rect x="637" y="562" width="1" height="9"/><rect x="641" y="564" width="1" height="7"/><rect x="645" y="564" width="1" height="7"/><rect x="649" y="566" width="1" height="5"/><rect x="653" y="567" width="1" height="4"/><rect x="657" y="564" width="1" height="7"/><rect x="661" y="561" width="1" height="10"/><rect x="665" y="561" width="1" height="10"/><rect x="669" y="561" width="1" height="10"/><rect x="673" y="558" width="1" height="13"/><rect x="677" y="555" width="1" height="16"/><rect x="681" y="556" width="1" height="15"/><rect x="685" y="550" width="1" height="21"/><rect x="689" y="546" width="1" height="25"/><rect x="693" y="536" width="1" height="35"/><rect x="697" y="536" width="1" height="35"/><rect x="701" y="533" width="1" height="38"/><rect x="705" y="535" width="1" height="36"/><rect x="709" y="537" width="1" height="34"/><rect x="713" y="540" width="1" height="31"/><rect x="717" y="558" width="1" height="13"/><rect x="821" y="568" width="1" height="3"/><rect x="825" y="561" width="1" height="10"/><rect x="829" y="559" width="1" height="12"/></g><g fill="#48b482"><rect x="93" y="570" width="1" height="6"/><rect x="97" y="570" width="1" height="7"/><rect x="101" y="570" width="1" height="7"/><rect x="105" y="570" width="1" height="9"/><rect x="109" y="570" width="1" height="7"/><rect x="113" y="570" width="1" height="4"/><rect x="117" y="570" width="1" height="3"/><rect x="145" y="570" width="1" height="1"/><rect x="149" y="570" width="1" height="2"/><rect x="165" y="570" width="1" height="2"/><rect x="169" y="570" width="1" height="2"/><rect x="173" y="570" width="1" height="2"/><rect x="289" y="570" width="1" height="3"/><rect x="293" y="570" width="1" height="9"/><rect x="297" y="570" width="1" height="12"/><rect x="301" y="570" width="1" height="17"/><rect x="305" y="570" width="1" height="18"/><rect x="309" y="570" width="1" height="20"/><rect x="313" y="570" width="1" height="20"/><rect x="317" y="570" width="1" height="18"/><rect x="321" y="570" width="1" height="20"/><rect x="325" y="570" width="1" height="19"/><rect x="329" y="570" width="1" height="21"/><rect x="333" y="570" width="1" height="22"/><rect x="337" y="570" width="1" height="20"/><rect x="341" y="570" width="1" height="16"/><rect x="345" y="570" width="1" height="12"/><rect x="349" y="570" width="1" height="12"/><rect x="353" y="570" width="1" height="11"/><rect x="357" y="570" width="1" height="10"/><rect x="361" y="570" width="1" height="8"/><rect x="365" y="570" width="1" height="6"/><rect x="369" y="570" width="1" height="4"/><rect x="373" y="570" width="1" height="1"/><rect x="377" y="570" width="1" height="4"/><rect x="381" y="570" width="1" height="4"/><rect x="385" y="570" width="1" height="8"/><rect x="389" y="570" width="1" height="9"/><rect x="393" y="570" width="1" height="7"/><rect x="397" y="570" width="1" height="5"/><rect x="401" y="570" width="1" height="8"/><rect x="405" y="570" width="1" height="9"/><rect x="409" y="570" width="1" height="13"/><rect x="413" y="570" width="1" height="13"/><rect x="417" y="570" width="1" height="12"/><rect x="421" y="570" width="1" height="13"/><rect x="425" y="570" width="1" height="10"/><rect x="429" y="570" width="1" height="5"/><rect x="433" y="570" width="1" height="4"/><rect x="437" y="570" width="1" height="2"/><rect x="497" y="570" width="1" height="5"/><rect x="501" y="570" width="1" height="20"/><rect x="505" y="570" width="1" height="32"/><rect x="509" y="570" width="1" height="28"/><rect x="513" y="570" width="1" height="29"/><rect x="517" y="570" width="1" height="26"/><rect x="521" y="570" width="1" height="21"/><rect x="525" y="570" width="1" height="18"/><rect x="529" y="570" width="1" height="13"/><rect x="533" y="570" width="1" height="5"/><rect x="537" y="570" width="1" height="1"/><rect x="565" y="570" width="1" height="5"/><rect x="569" y="570" width="1" height="7"/><rect x="573" y="570" width="1" height="8"/><rect x="577" y="570" width="1" height="11"/><rect x="581" y="570" width="1" height="7"/><rect x="585" y="570" width="1" height="7"/><rect x="721" y="570" width="1" height="5"/><rect x="725" y="570" width="1" height="16"/><rect x="729" y="570" width="1" height="22"/><rect x="733" y="570" width="1" height="26"/><rect x="737" y="570" width="1" height="28"/><rect x="741" y="570" width="1" height="26"/><rect x="745" y="570" width="1" height="21"/><rect x="749" y="570" width="1" height="18"/><rect x="753" y="570" width="1" height="16"/><rect x="757" y="570" width="1" height="11"/><rect x="761" y="570" width="1" height="8"/><rect x="765" y="570" width="1" height="5"/><rect x="769" y="570" width="1" height="7"/><rect x="773" y="570" width="1" height="4"/><rect x="777" y="570" width="1" height="5"/><rect x="781" y="570" width="1" height="7"/><rect x="785" y="570" width="1" height="8"/><rect x="789" y="570" width="1" height="9"/><rect x="793" y="570" width="1" height="9"/><rect x="797" y="570" width="1" height="9"/><rect x="801" y="570" width="1" height="11"/><rect x="805" y="570" width="1" height="11"/><rect x="809" y="570" width="1" height="9"/><rect x="813" y="570" width="1" height="9"/><rect x="817" y="570" width="1" height="5"/></g>
</g>
<polyline fill="none" stroke="#2fb56e" stroke-width="1" stroke-linejoin="round" stroke-linecap="round" points="93.52,576.25 105.51,578.93 117.5,580.5 129.01,578.61 151.09,577.35 173.65,577.82 185.79,574.67 198.41,571.51 222.07,569.94 233.11,566.78 240,563.63 249.46,558.9 257.35,554.95 265.24,550.69 269.5,547.85 276.28,543.12 281.01,542.33 290.47,542.33 299.94,546.28 310.98,551.8 322.02,558.58 331.48,563.63 340.95,569.62 350.41,572.78 359.87,576.25 369.34,577.82 378.8,577.82 389.84,580.98 392,581.77 398.31,581.77 407.77,584.92 417.24,588.08 425.12,591.23 436.16,592.33 445.63,592.02 455.09,589.65 464.56,585.71 474.02,580.98 483.48,576.25 489.79,573.88 494.52,573.09 500.83,576.25 505.56,580.98 511.87,585.71 518.18,591.23 524.49,595.17 530.8,597.54 537.11,598.33 544,597.07 551.89,596.44 559.77,594.7 567.66,595.96 575.55,598.01 581.85,599.59 589.74,599.59 596.05,597.54 603.94,593.6 611.82,588.08 621.29,583.34 630.75,580.19 641.79,577.82 652.83,576.25 663.87,573.09 673.34,569.94 681.22,566.78 689.11,561.26 696,554.64 702.31,547.07 709.56,538.39 714.93,534.92 719.66,534.45 727.55,538.39 735.43,544.7 743.32,550.22 752.78,555.74 762.25,558.58 771.71,560.47 781.17,561.58 790.64,563.63 800.1,566.47 809.56,569.62 817.45,570.73 822.18,570.25 829.44,568.36"/>
<polyline fill="none" stroke="#2a7ff0" stroke-width="1" stroke-linejoin="round" stroke-linecap="round" points="93.52,578.14 105.51,583.66 109.61,581.77 117.5,581.29 125.54,576.56 135.32,576.25 138.47,577.82 149.51,578.3 153.62,576.56 160.56,576.56 165.6,578.3 173.65,578.3 181.69,572.3 189.74,568.36 198.41,569.62 222.07,569.15 229.8,563.63 237.68,556.53 240,554.95 245.52,552.59 252.62,551.32 261.61,542.33 271.55,536.34 277.85,536.34 285.74,539.97 292.05,546.28 301.51,554.95 314.13,562.84 325.17,569.15 334.64,577.03 337.79,578.3 342.52,577.82 345.36,575.46 350.41,578.61 353.56,578.61 358.3,580.19 366.18,580.19 373.44,577.82 381.96,579.4 389.53,584.13 392,584.45 398.31,584.45 404.62,587.29 410.93,592.02 417.24,594.38 425.12,596.44 429.85,594.38 437.74,593.28 440.9,591.7 447.21,591.23 455.09,585.71 462.98,580.98 470.86,574.67 477.96,573.09 485.06,567.57 489,565.99 492.95,569.94 497.68,577.82 501.62,587.29 505.56,596.75 509.51,599.12 513.45,603.38 529.22,603.38 533.96,599.91 541.84,595.96 544,595.96 553.46,592.33 559.77,592.33 566.08,597.54 572.39,600.69 577.91,603.53 585.01,602.27 589.74,599.12 596.05,592.02 602.36,584.13 608.67,580.19 614.98,578.14 621.29,575.14 626.02,575.14 629.96,576.25 638.64,575.14 644.95,574.35 652.83,574.35 657.56,571.51 665.45,568.36 673.34,562.84 681.22,558.9 685.96,552.59 693.84,539.97 696,536.03 702.31,528.14 709.56,522.93 713.51,521.04 715.72,524.2 721.24,536.81 725.5,545.49 732.28,554.16 741.74,563.63 746.47,562.05 753.57,564.42 759.09,562.84 765.4,561.26 769.5,563.31 774.08,560.79 781.17,563.94 790.64,567.57 800.1,571.83 806.41,573.41 813.51,574.35 818.24,572.78 822.18,568.36 826.91,563.63 829.44,563.63"/>
<text class="cjk" x="92.2" y="14.16" fill="#111" stroke="#111" stroke-width="0.3" stroke-linejoin="round" style="font-size:12px">美原油连续</text>
<text class="cjk" x="152.4" y="14.16" fill="#ff7f1a" style="font-size:12px">【日线】</text>
<g fill="none" stroke="#ff8000" stroke-width="1"><circle cx="204.8" cy="11.6" r="4"/><path d="M200.8 11.5H208.8" /><path d="M204.8 7.6V15.6" stroke-opacity="0.55"/></g>
<g shape-rendering="crispEdges"><rect x="218" y="2" width="12" height="13" fill="#b9bcc4"/><rect x="217.5" y="1.5" width="11" height="12" fill="#fff" stroke="#000080"/></g>
<polyline fill="none" stroke="#ff0000" stroke-width="1.2" points="218.3,8.6 221.4,4.6 224.4,7.6 226.3,5.4 228,5.4"/>
<polyline fill="none" stroke="#0000ff" stroke-width="1.2" points="218.3,11.8 221.4,7.8 224.4,10.8 226.3,8.6 228,8.6"/>
<text x="232.2" y="14.3" fill="#111" textLength="112" lengthAdjust="spacing">MA(20,50,0,200,0,0)</text>
<text x="349.6" y="14.3" fill="#4d90f5" textLength="66.6" lengthAdjust="spacing">MA20:67.16</text>
<text x="425.3" y="14.3" fill="#3fc08a" textLength="67.2" lengthAdjust="spacing">MA50:66.55</text>
<text x="501.2" y="14.3" fill="#3ba9f0" textLength="60.3" lengthAdjust="spacing">MA0:69.63</text>
<text x="570.2" y="14.3" fill="#ff8f45" textLength="73" lengthAdjust="spacing">MA200:68.01</text>
<text x="652.9" y="14.3" fill="#ea7fe0" textLength="60.3" lengthAdjust="spacing">MA0:69.63</text>
<text x="722.1" y="14.3" fill="#8a93f2" textLength="60.3" lengthAdjust="spacing">MA0:69.63</text>
<text x="791.2" y="14.3" fill="#4d90f5" textLength="10.8" lengthAdjust="spacing">M</text>
<g shape-rendering="crispEdges"><rect x="882.5" y="1.5" width="13" height="13" fill="#fff" stroke="#1b79d3"/><rect x="898.5" y="1.5" width="13" height="13" fill="#fff" stroke="#1b79d3"/><rect x="914.5" y="1.5" width="13" height="13" fill="#fff" stroke="#1b79d3"/><rect x="930.5" y="1.5" width="13" height="13" fill="#fff" stroke="#1b79d3"/></g>
<g fill="#1b79d3" stroke="none">
<rect x="888" y="4" width="2" height="2"/><rect x="888" y="10.5" width="2" height="2"/><rect x="884.3" y="7.3" width="2.4" height="1.8"/><rect x="891.3" y="7.3" width="2.4" height="1.8"/><rect x="888" y="7.3" width="2" height="1.8"/>
<rect x="901" y="3" width="1" height="10"/><rect x="900" y="11" width="10" height="1"/><path d="M901.5 2.4l1.7 2.2h-3.4z M910.6 11.5l-2 1.6v-3.2z M900 11.5l1.6 -1.4v2.8z"/><rect x="905" y="5" width="1" height="5"/><path d="M909.2 4.9v5.2l-3.2 -2.6z"/>
<rect x="917" y="3" width="1" height="10"/><rect x="916" y="11" width="10" height="1"/><path d="M917.5 2.4l1.7 2.2h-3.4z M926.6 11.5l-2 1.6v-3.2z M916 11.5l1.6 -1.4v2.8z"/><path d="M920.6 4.6v5.6l4.6 -2.8z"/>
<path d="M932.5 3.5h3v9.5h-3z" fill="none" stroke="#1b79d3" stroke-width="1"/><rect x="935" y="7.2" width="4.4" height="1.8"/><path d="M938.6 4.6l3.8 3.5l-3.8 3.5z"/>
</g>
<text x="92.3" y="388" fill="#111" textLength="74.2" lengthAdjust="spacing">RSI(14,14,14)</text>
<text x="172" y="388" fill="#4d90f5" textLength="58.6" lengthAdjust="spacing">RSI1:60.04</text>
<text x="240" y="388" fill="#3fc08a" textLength="58.6" lengthAdjust="spacing">RSI2:60.04</text>
<text x="308" y="388" fill="#3ba9f0" textLength="58.6" lengthAdjust="spacing">RSI3:60.04</text>
<text x="92.6" y="512.6" fill="#111" textLength="84.2" lengthAdjust="spacing">MACD(26,12,9)</text>
<text x="182.2" y="512.6" fill="#4d90f5" textLength="51.2" lengthAdjust="spacing">DIFF:0.50</text>
<text x="242.8" y="512.6" fill="#3fc08a" textLength="49.2" lengthAdjust="spacing">DEA:0.14</text>
<text x="301" y="512.6" fill="#3ba9f0" textLength="63.4" lengthAdjust="spacing">MACD:0.72</text>
<g><circle cx="28.6" cy="505.7" r="3.7" fill="#fff" stroke="#000" stroke-width="1"/><circle cx="28.6" cy="505.7" r="2" fill="#ff0000"/><g stroke="#ff0000" stroke-width="1">
<line x1="34.2" y1="505.7" x2="36" y2="505.7"/>
<line x1="32.56" y1="509.66" x2="33.83" y2="510.93"/>
<line x1="28.6" y1="511.3" x2="28.6" y2="513.1"/>
<line x1="24.64" y1="509.66" x2="23.37" y2="510.93"/>
<line x1="23" y1="505.7" x2="21.2" y2="505.7"/>
<line x1="24.64" y1="501.74" x2="23.37" y2="500.47"/>
<line x1="28.6" y1="500.1" x2="28.6" y2="498.3"/>
<line x1="32.56" y1="501.74" x2="33.83" y2="500.47"/>
</g></g>
<text class="cjk" x="3.05" y="17.77" fill="#1c2533" style="font-size:13.2px">分</text>
<text class="cjk" x="3.05" y="31.77" fill="#1c2533" style="font-size:13.2px">时</text>
<text class="cjk" x="3.05" y="45.77" fill="#1c2533" style="font-size:13.2px">图</text>
<text x="10" y="66.1" text-anchor="middle" fill="#fff" style="font-family:'Liberation Serif',serif;font-size:11px">K</text>
<text class="cjk" x="3.05" y="80.77" fill="#fff" style="font-size:13.2px">线</text>
<text class="cjk" x="3.05" y="94.77" fill="#fff" style="font-size:13.2px">图</text>
<text class="cjk" x="3.05" y="115.77" fill="#1c2533" style="font-size:13.2px">闪</text>
<text class="cjk" x="3.05" y="129.77" fill="#1c2533" style="font-size:13.2px">电</text>
<text class="cjk" x="3.05" y="143.77" fill="#1c2533" style="font-size:13.2px">图</text>
<text class="cjk" x="3.05" y="168.77" fill="#1c2533" style="font-size:13.2px">合</text>
<text class="cjk" x="3.05" y="182.77" fill="#1c2533" style="font-size:13.2px">约</text>
<text class="cjk" x="3.05" y="196.77" fill="#1c2533" style="font-size:13.2px">资</text>
<text class="cjk" x="3.05" y="210.37" fill="#1c2533" style="font-size:13.2px">料</text>
<g shape-rendering="crispEdges" fill="#dfe4ec">
<rect x="149" y="605" width="1" height="6"/>
<rect x="233" y="605" width="1" height="6"/>
<rect x="321" y="605" width="1" height="6"/>
<rect x="401" y="605" width="1" height="6"/>
<rect x="485" y="605" width="1" height="6"/>
<rect x="569" y="605" width="1" height="6"/>
<rect x="657" y="605" width="1" height="6"/>
<rect x="741" y="605" width="1" height="6"/>
</g>
<text class="b" x="151.3" y="617" fill="#1f2330">2024/12</text>
<text class="b" x="235.3" y="617" fill="#1f2330">2025/01</text>
<text class="b" x="323.3" y="617" fill="#1f2330">2025/02</text>
<text class="b" x="403.3" y="617" fill="#1f2330">2025/03</text>
<text class="b" x="487.3" y="617" fill="#1f2330">2025/04</text>
<text class="b" x="571.3" y="617" fill="#1f2330">2025/05</text>
<text class="b" x="659.3" y="617" fill="#1f2330">2025/06</text>
<text class="b" x="743.3" y="617" fill="#1f2330">2025/07</text>
<g shape-rendering="crispEdges"><rect x="20" y="604" width="70" height="20" fill="#fff"/><rect x="20" y="604" width="70" height="1" fill="#cbd2dd"/><rect x="20" y="604" width="1" height="20" fill="#cbd2dd"/><rect x="89" y="604" width="1" height="20" fill="#cbd2dd"/><rect x="20" y="623" width="70" height="1" fill="#d8dde6"/></g>
<text class="cjk b" x="34.4" y="620.02" fill="#ff7a14" stroke="#ff7a14" stroke-width="0.2" stroke-linejoin="round" style="font-size:12.3px">日线</text>
<path d="M64.4 618.8 L68.7 611.6 L73 618.8 Z" fill="#ff7a14"/>
<g shape-rendering="crispEdges">
<rect x="20" y="624" width="995" height="1" fill="#cdd4df"/>
<rect x="684" y="639" width="331" height="1" fill="#cdd4df"/>
<rect x="20" y="624" width="39" height="16" fill="#ff6a00"/>
<rect x="59" y="625" width="1" height="15" fill="#cdd4df"/>
<rect x="99" y="625" width="1" height="15" fill="#cdd4df"/>
<rect x="157" y="625" width="1" height="15" fill="#cdd4df"/>
<rect x="185" y="625" width="1" height="15" fill="#cdd4df"/>
<rect x="225" y="625" width="1" height="15" fill="#cdd4df"/>
<rect x="265" y="625" width="1" height="15" fill="#cdd4df"/>
<rect x="299" y="625" width="1" height="15" fill="#cdd4df"/>
<rect x="333" y="625" width="1" height="15" fill="#cdd4df"/>
<rect x="373" y="625" width="1" height="15" fill="#cdd4df"/>
<rect x="473" y="625" width="1" height="15" fill="#cdd4df"/>
<rect x="507" y="625" width="1" height="15" fill="#cdd4df"/>
<rect x="535" y="625" width="1" height="15" fill="#cdd4df"/>
<rect x="569" y="625" width="1" height="15" fill="#cdd4df"/>
<rect x="609" y="625" width="1" height="15" fill="#cdd4df"/>
<rect x="643" y="625" width="1" height="15" fill="#cdd4df"/>
<rect x="683" y="625" width="1" height="15" fill="#cdd4df"/>
</g>
<text class="cjk" x="27.3" y="636.84" fill="#fff" style="font-size:13px">指标</text>
<text class="cjk" x="67.3" y="636.84" fill="#1c2533" style="font-size:13px">模板</text>
<text class="mono" transform="translate(107.6,636.5) scale(0.926,1)" fill="#ff7a14">VIP</text>
<text class="cjk" x="125.3" y="636.84" fill="#ff7a14" style="font-size:13px">指标</text>
<text class="mono" transform="translate(165.6,636.5) scale(0.926,1)" fill="#2a3040">MA</text>
<text class="mono" transform="translate(193.6,636.5) scale(0.926,1)" fill="#2a3040">MACD</text>
<text class="mono" transform="translate(233.6,636.5) scale(0.926,1)" fill="#2a3040">BIAS</text>
<text class="mono" transform="translate(273.6,636.5) scale(0.926,1)" fill="#2a3040">CCI</text>
<text class="mono" transform="translate(307.6,636.5) scale(0.926,1)" fill="#2a3040">KDJ</text>
<text class="mono" transform="translate(341.6,636.5) scale(0.926,1)" fill="#2a3040">LW&amp;</text>
<text class="mono" transform="translate(381.6,636.5) scale(0.926,1)" fill="#2a3040">ICHIMOKU CLOUD</text>
<text class="mono" transform="translate(481.6,636.5) scale(0.926,1)" fill="#2a3040">RSI</text>
<text class="mono" transform="translate(515.6,636.5) scale(0.926,1)" fill="#2a3040">CR</text>
<text class="mono" transform="translate(543.6,636.5) scale(0.926,1)" fill="#2a3040">PSY</text>
<text class="mono" transform="translate(577.6,636.5) scale(0.926,1)" fill="#2a3040">BOLL</text>
<text class="mono" transform="translate(617.6,636.5) scale(0.926,1)" fill="#2a3040">VOL</text>
<text class="cjk" x="651.3" y="636.84" fill="#1c2533" style="font-size:13px">设置</text>
<g letter-spacing="2.2"><text style="font-size:30.5px" x="886.7" y="616" fill="#c9b9a8">FX678</text><text style="font-size:30.5px" x="885.7" y="615" fill="#dbe7f8">FX678</text></g>
</svg></body></html>
